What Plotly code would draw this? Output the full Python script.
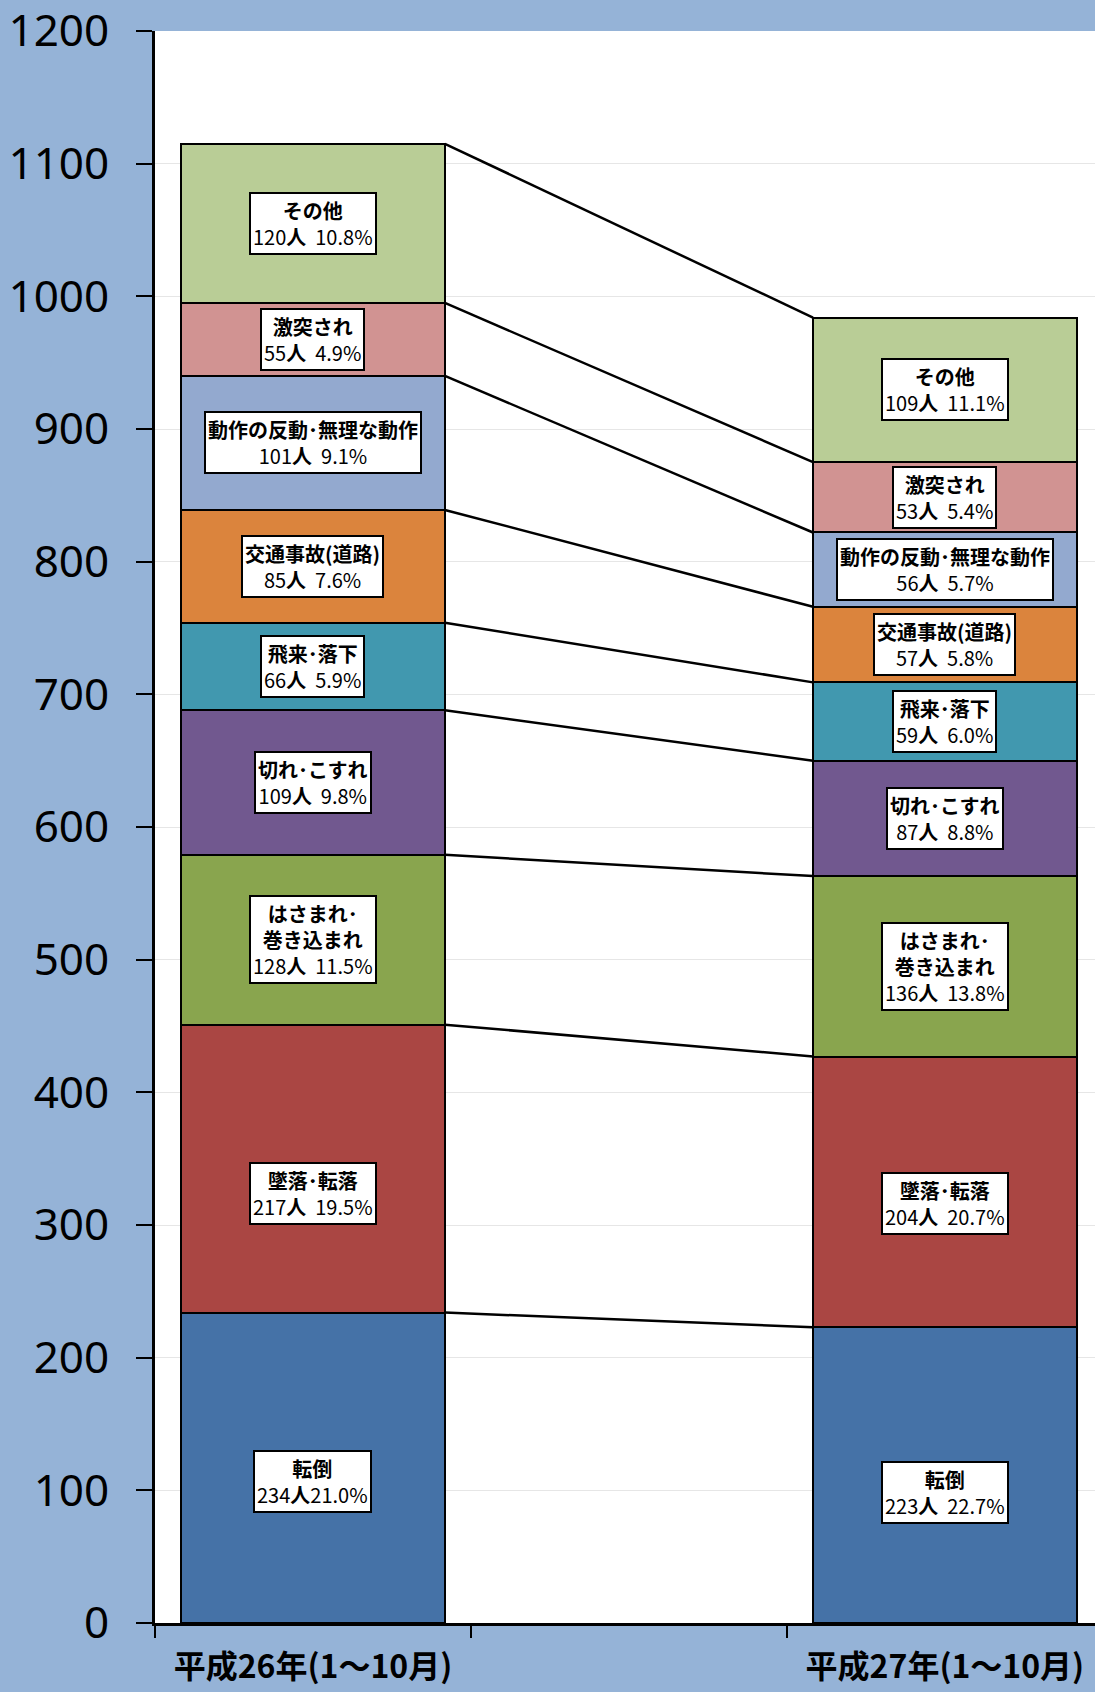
import plotly.graph_objects as go

# ---- data ----
years = ["平成26年(1～10月)", "平成27年(1～10月)"]
categories = ["転倒", "墜落・転落", "はさまれ・巻き込まれ", "切れ・こすれ", "飛来・落下",
              "交通事故(道路)", "動作の反動・無理な動作", "激突され", "その他"]
h26_values = [234, 217, 128, 109, 66, 85, 101, 55, 120]
h27_values = [223, 204, 136, 87, 59, 57, 56, 53, 109]
h26_pct = [21.0, 19.5, 11.5, 9.8, 5.9, 7.6, 9.1, 4.9, 10.8]
h27_pct = [22.7, 20.7, 13.8, 8.8, 6.0, 5.8, 5.7, 5.4, 11.1]
y_ticks = list(range(0, 1201, 100))

# ---- styles ----
colors = ["#4572A7", "#AA4643", "#89A54E", "#71588F", "#4198AF",
          "#DB843D", "#93A9CF", "#D19392", "#B9CD96"]
x_pos = [0, 2]
bar_w = 0.835
JP = "Noto Sans CJK JP"
label_shift = {("転倒", 0): -14, ("墜落・転落", 0): -25,
               ("転倒", 1): -17, ("墜落・転落", 1): -12}

def disp(name):
    s = name.replace("・", "･")
    if name == "はさまれ・巻き込まれ":
        s = "はさまれ･<br>巻き込まれ"
    return s

fig = go.Figure()
for i, cat in enumerate(categories):
    fig.add_trace(go.Bar(
        x=x_pos, y=[h26_values[i], h27_values[i]], width=[bar_w, bar_w],
        name=cat, marker=dict(color=colors[i], line=dict(color="black", width=2)),
        hoverinfo="skip"))

# series lines connecting cumulative tops
cum = [[0], [0]]
for vals, c in zip([h26_values, h27_values], cum):
    for v in vals:
        c.append(c[-1] + v)
lx, ly = [], []
for k in range(1, len(categories) + 1):
    lx += [x_pos[0] + bar_w / 2, x_pos[1] - bar_w / 2, None]
    ly += [cum[0][k], cum[1][k], None]
fig.add_trace(go.Scatter(x=lx, y=ly, mode="lines",
                         line=dict(color="black", width=2.5), hoverinfo="skip"))

# labels
for j, (vals, pcts) in enumerate([(h26_values, h26_pct), (h27_values, h27_pct)]):
    for i, cat in enumerate(categories):
        mid = cum[j][i] + vals[i] / 2
        sep = "" if (j == 0 and cat == "転倒") else "  "
        txt = f"<b>{disp(cat)}</b><br>{vals[i]}<b>人</b>{sep}{pcts[i]:.1f}%"
        fig.add_annotation(
            x=x_pos[j], y=mid, text=txt, showarrow=False,
            yshift=label_shift.get((cat, j), 0),
            font=dict(family=JP, size=20, color="black"),
            bgcolor="white", bordercolor="black", borderwidth=2, borderpad=2)

fig.update_layout(
    width=1095, height=1692,
    margin=dict(l=155, r=0, t=31, b=69),
    paper_bgcolor="#95B3D7", plot_bgcolor="white",
    barmode="stack", showlegend=False,
    xaxis=dict(range=[-0.5, 2.475], tickmode="array", tickvals=x_pos, ticktext=years,
               ticks="", showline=True, linecolor="black", linewidth=3,
               showgrid=False, zeroline=False, automargin=False,
               ticklabelstandoff=14, ticklabeloverflow="allow",
               tickfont=dict(family=JP, size=32, color="black", weight="bold"),
               minor=dict(tickmode="array", tickvals=[-0.5, 0.5, 1.5], ticks="outside",
                          ticklen=12, tickwidth=2, tickcolor="black", showgrid=False)),
    yaxis=dict(range=[0, 1200], tickmode="array", tickvals=y_ticks,
               ticks="outside", ticklen=16, tickwidth=2, tickcolor="black",
               showline=True, linecolor="black", linewidth=3,
               gridcolor="#E6E6E6", gridwidth=1, zeroline=False, automargin=False,
               ticklabelstandoff=18, ticklabeloverflow="allow",
               tickfont=dict(family="Noto Sans", size=44, color="black")),
)

fig.write_html("out.html")
